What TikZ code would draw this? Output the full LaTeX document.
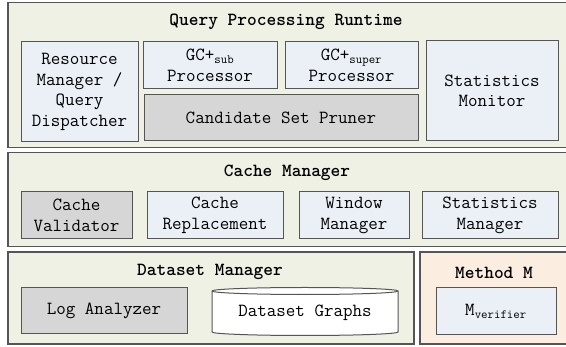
\documentclass[tikz,border=0pt]{standalone}
\usepackage{fontspec}
\usetikzlibrary{positioning}
\definecolor{outerfill}{HTML}{EFF1E4}
\definecolor{innerfill}{HTML}{EAF0F6}
\definecolor{grayfill}{HTML}{D6D6D6}
\definecolor{peachfill}{HTML}{FCEDE1}
\definecolor{edge}{HTML}{555555}
\newcommand{\sbs}[1]{\textsubscript{\fontsize{12.5}{12.5}\selectfont #1}}
\tikzset{
  outer/.style={draw=edge, line width=1.3pt, fill=outerfill},
  inbox/.style={draw=edge, line width=1pt, fill=innerfill, inner sep=0pt, align=center,
     font=\ttfamily\fontsize{18.5}{20.5}\selectfont},
  graybox/.style={inbox, fill=grayfill},
  title/.style={font=\ttfamily\bfseries\fontsize{18.5}{20}\selectfont, inner sep=0pt},
  plain/.style={inner sep=0pt, align=center, font=\ttfamily\fontsize{18.5}{20}\selectfont}
}
\begin{document}
\begin{tikzpicture}[x=1pt,y=-1pt]
\clip (0,0) rectangle (566,347);
\fill[white] (0,0) rectangle (566,347);
% outer boxes
\draw[outer] (8,2.5) rectangle (575,147.5);
\draw[outer] (8,152.5) rectangle (575,246.5);
\draw[outer] (8,252) rectangle (414,344);
\draw[outer, fill=peachfill] (420,252) rectangle (575,344);
% Query Processing Runtime
\node[title] (qprt) at (286,22) {Query Processing Runtime};
\node[inbox, minimum width=117, minimum height=100] (rm) at (79.5,92) {Resource\\Manager /\\Query\\Dispatcher};
\node[inbox, minimum width=134, minimum height=47] (gsub) at (210,65.5) {GC+\sbs{sub}\\Processor};
\node[inbox, minimum width=133, minimum height=47] (gsup) at (351.5,65.5) {GC+\sbs{super}\\Processor};
\node[graybox, minimum width=274, minimum height=46] (csp) at (281,118) {Candidate Set Pruner};
\node[inbox, minimum width=132, minimum height=100] (sm) at (492,91) {Statistics\\Monitor};
% Cache Manager
\node[title] (cmt) at (287,173) {Cache Manager};
\node[graybox, minimum width=111, minimum height=47] (cv) at (76.5,215.5) {Cache\\Validator};
\node[inbox, minimum width=136, minimum height=47] (cr) at (215,215.5) {Cache\\Replacement};
\node[inbox, minimum width=110, minimum height=47] (wm) at (354,215.5) {Window\\Manager};
\node[inbox, minimum width=136, minimum height=47] (stm) at (490,215.5) {Statistics\\Manager};
% Dataset Manager
\node[title] (dmt) at (210,272) {Dataset Manager};
\node[graybox, minimum width=166, minimum height=46] (la) at (104,311) {Log Analyzer};
\draw[draw=edge, line width=1pt, fill=white] (212,291) -- (212,332)
  arc[start angle=180, end angle=360, x radius=93pt, y radius=3.5pt] -- (398,291)
  arc[start angle=0, end angle=180, x radius=93pt, y radius=3.5pt] -- cycle;
\draw[draw=edge, line width=1pt] (212,291) arc[start angle=180, end angle=360, x radius=93pt, y radius=3.5pt];
\node[plain] (dg) at (305,313) {Dataset Graphs};
% Method M
\node[title] (mmt) at (494,273) {Method M};
\node[inbox, minimum width=120, minimum height=47] (mv) at (496,311.5) {M\sbs{verifier}};
\end{tikzpicture}
\end{document}
